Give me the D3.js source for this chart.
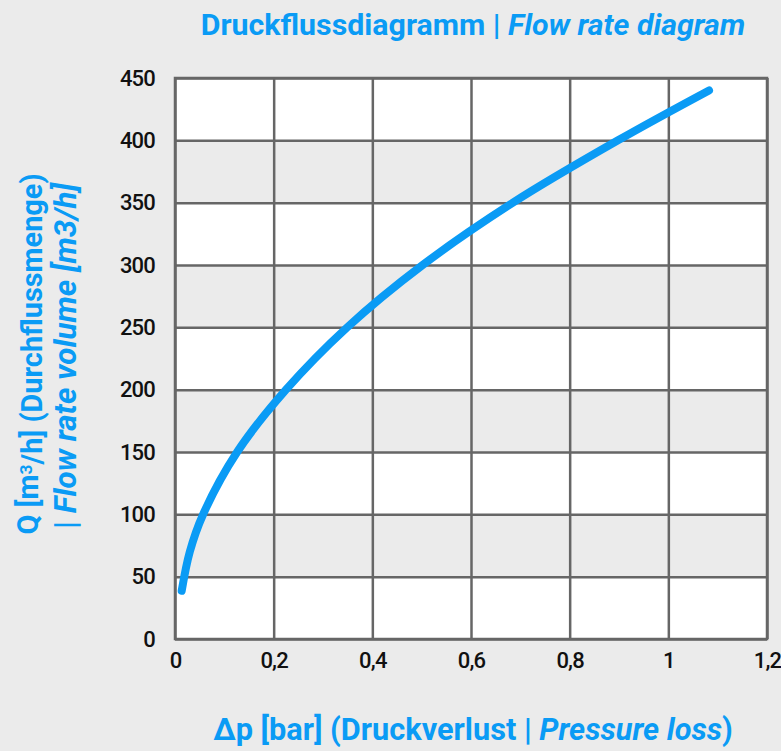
<!DOCTYPE html>
<html>
<head>
<meta charset="utf-8">
<script src="https://cdn.jsdelivr.net/npm/d3@7"></script>
<style>
  body { margin: 0; background: #ebebeb; }
  svg { display: block; font-family: Roboto, 'DejaVu Sans', sans-serif; }
  .tick text { fill: #111; font-weight: 500; font-size: 22px; letter-spacing: -0.8px; }
</style>
</head>
<body>
<script>
'use strict';

// pressure loss in bar
const pressureLoss = [0.0136, 0.03, 0.057, 0.126, 0.225, 0.349, 0.502, 0.685, 0.898, 1.0825];
// flow rate in m3/h
const flowRate = [38.7, 70, 100, 150, 200, 250, 300, 350, 400, 440];

const xTicks = [0, 0.2, 0.4, 0.6, 0.8, 1, 1.2];
const yTicks = [0, 50, 100, 150, 200, 250, 300, 350, 400, 450];

const blue = '#0a9bf5';
const gridColor = '#666';

const width = 781;
const height = 751;
const plot = { left: 175, right: 767, top: 78, bottom: 639 };

const svg = d3.select('body')
  .append('svg')
  .attr('width', width)
  .attr('height', height);

const xScale = d3.scaleLinear().domain([0, 1.2]).range([plot.left, plot.right]);
const yScale = d3.scaleLinear().domain([0, 450]).range([plot.bottom, plot.top]);

// alternating bands: white on 0-50, 100-150 ...
const bands = yTicks.slice(0, -1).map((v, i) => ({ lo: v, hi: yTicks[i + 1], white: i % 2 === 0 }));
svg.append('g')
  .selectAll('rect')
  .data(bands)
  .enter()
  .append('rect')
  .attr('x', plot.left)
  .attr('width', plot.right - plot.left)
  .attr('y', d => yScale(d.hi))
  .attr('height', d => yScale(d.lo) - yScale(d.hi))
  .attr('fill', d => (d.white ? '#fff' : '#ebebeb'));

const fmt = d => String(d).replace('.', ',');

// x axis with vertical grid lines
const xAxis = svg.append('g')
  .attr('transform', 'translate(0,' + plot.bottom + ')')
  .call(d3.axisBottom(xScale).tickValues(xTicks).tickFormat(fmt)
    .tickSize(-(plot.bottom - plot.top)).tickPadding(13));

// y axis with horizontal grid lines
const yAxis = svg.append('g')
  .attr('transform', 'translate(' + plot.left + ',0)')
  .call(d3.axisLeft(yScale).tickValues(yTicks)
    .tickSize(-(plot.right - plot.left)).tickPadding(20));

[xAxis, yAxis].forEach(ax => {
  ax.select('.domain').remove();
  ax.selectAll('.tick line').attr('stroke', gridColor).attr('stroke-width', 2.5);
  ax.attr('font-family', null).attr('font-size', null);
});
xAxis.selectAll('.tick text').attr('dy', '0.71em');

// outer frame
svg.append('rect')
  .attr('x', plot.left)
  .attr('y', plot.top)
  .attr('width', plot.right - plot.left)
  .attr('height', plot.bottom - plot.top)
  .attr('fill', 'none')
  .attr('stroke', gridColor)
  .attr('stroke-width', 2.5);

// the curve
const points = pressureLoss.map((p, i) => [p, flowRate[i]]);
const line = d3.line()
  .x(d => xScale(d[0]))
  .y(d => yScale(d[1]))
  .curve(d3.curveCatmullRom.alpha(0.5));

svg.append('path')
  .datum(points)
  .attr('d', line)
  .attr('fill', 'none')
  .attr('stroke', blue)
  .attr('stroke-width', 8)
  .attr('stroke-linecap', 'round');

// scale a label's font so it spans the wanted width
function fitWidth(sel, target) {
  const size = parseFloat(sel.style('font-size'));
  const w = sel.node().getComputedTextLength();
  sel.style('font-size', (size * target / w) + 'px');
}

function blueLabel(transform) {
  return svg.append('text')
    .attr('transform', transform)
    .attr('text-anchor', 'middle')
    .attr('fill', blue)
    .style('font-size', '26px')
    .style('font-weight', 700);
}

// title
const title = blueLabel('translate(473,35)');
title.append('tspan').text('Druckflussdiagramm | ');
title.append('tspan').style('font-style', 'italic').text('Flow rate diagram');
fitWidth(title, 545);

// x label
const xLabel = blueLabel('translate(473,740)');
xLabel.append('tspan').text('Δp [bar] (Druckverlust | ');
xLabel.append('tspan').style('font-style', 'italic').text('Pressure loss');
xLabel.append('tspan').text(')');
fitWidth(xLabel, 520);

// y label, two lines
const yLabel1 = blueLabel('translate(38,354)rotate(-90)');
yLabel1.append('tspan').text('Q [m');
yLabel1.append('tspan').attr('class', 'sup').attr('dy', '-0.35em').text('3');
yLabel1.append('tspan').attr('dy', '0.35em').text('/h] (Durchflussmenge)');
fitWidth(yLabel1, 368);
yLabel1.select('.sup').style('font-size', '0.6em');

const yLabel2 = blueLabel('translate(76,356)rotate(-90)');
yLabel2.append('tspan').text('| ');
yLabel2.append('tspan').style('font-style', 'italic').text('Flow rate volume [m3/h]');
fitWidth(yLabel2, 346);
</script>
</body>
</html>
